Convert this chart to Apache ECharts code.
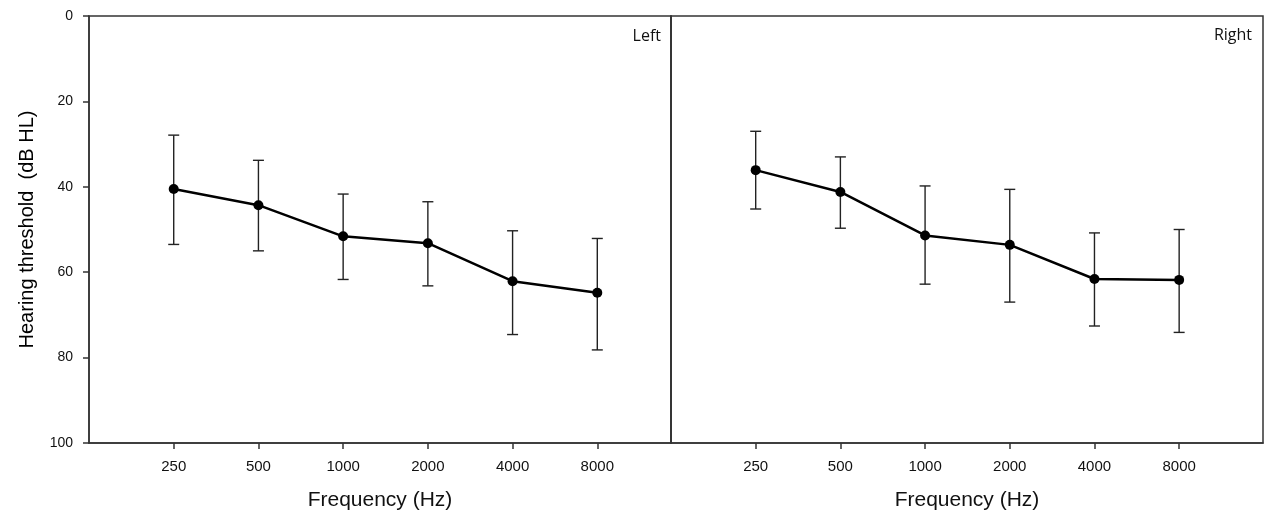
<!DOCTYPE html>
<html>
<head>
<meta charset="utf-8">
<script src="https://cdn.jsdelivr.net/npm/echarts@6/dist/echarts.min.js"></script>
<style>
html,body{margin:0;padding:0;background:#fff;}
#chart{width:1265px;height:518px;}
</style>
</head>
<body>
<div id="chart"></div>
<script>
// ---- data ----
var categories = ['250', '500', '1000', '2000', '4000', '8000'];
var yTicks = [0, 20, 40, 60, 80, 100];
var leftMean = [40.5, 44.3, 51.6, 53.2, 62.1, 64.8];
var leftLow  = [27.9, 33.8, 41.7, 43.5, 50.3, 52.1];
var leftHigh = [53.5, 55.0, 61.7, 63.2, 74.6, 78.2];
var rightMean = [36.1, 41.2, 51.4, 53.6, 61.6, 61.8];
var rightLow  = [27.0, 33.0, 39.8, 40.6, 50.8, 50.0];
var rightHigh = [45.2, 49.7, 62.8, 67.0, 72.6, 74.1];
var panelNames = ['Left', 'Right'];

var idx = categories.map(function (c, i) { return i; });
var FONT = '"Liberation Sans", Arial, sans-serif';
var AX = '#333';

function pts(arr) { return arr.map(function (v, i) { return [i, v]; }); }
function errs(lo, hi) { return lo.map(function (v, i) { return [i, v, hi[i]]; }); }

function errorRender(params, api) {
  var x = api.value(0);
  var p1 = api.coord([x, api.value(1)]);
  var p2 = api.coord([x, api.value(2)]);
  var w = 5.5;
  var st = { stroke: '#222', lineWidth: 1.4 };
  return {
    type: 'group',
    children: [
      { type: 'line', shape: { x1: p1[0], y1: p1[1], x2: p2[0], y2: p2[1] }, style: st },
      { type: 'line', shape: { x1: p1[0] - w, y1: p1[1], x2: p1[0] + w, y2: p1[1] }, style: st },
      { type: 'line', shape: { x1: p2[0] - w, y1: p2[1], x2: p2[0] + w, y2: p2[1] }, style: st }
    ]
  };
}

function xAxisCfg(gi, max) {
  return {
    type: 'value', gridIndex: gi, min: -1, max: max, position: 'bottom',
    axisLine: { show: true, onZero: false, lineStyle: { color: AX, width: 1.5 } },
    axisTick: { show: true, inside: false, length: 6, customValues: idx, lineStyle: { color: AX, width: 1.5 } },
    axisLabel: {
      customValues: idx, margin: 16, color: '#111', fontSize: 15, fontFamily: FONT,
      formatter: function (v) { return categories[v] !== undefined ? categories[v] : ''; }
    },
    splitLine: { show: false },
    name: 'Frequency (Hz)', nameLocation: 'middle', nameGap: 47,
    nameTextStyle: { fontSize: 21, color: '#111', fontFamily: FONT }
  };
}

var option = {
  animation: false,
  backgroundColor: '#fff',
  grid: [
    { left: 89, right: 594, top: 16, bottom: 75, show: true, borderColor: AX, borderWidth: 1.5, backgroundColor: 'transparent' },
    { left: 671, right: 2, top: 16, bottom: 75, show: true, borderColor: AX, borderWidth: 1.5, backgroundColor: 'transparent' }
  ],
  xAxis: [xAxisCfg(0, 5.87), xAxisCfg(1, 5.99)],
  yAxis: [
    {
      type: 'value', gridIndex: 0, inverse: true, min: 0, max: 100, interval: 20, position: 'left',
      axisLine: { show: true, onZero: false, lineStyle: { color: AX, width: 1.5 } },
      axisTick: { show: true, inside: false, length: 6, lineStyle: { color: AX, width: 1.5 } },
      axisLabel: { margin: 16, color: '#111', fontSize: 14, fontFamily: FONT },
      splitLine: { show: false },
      name: 'Hearing threshold  (dB HL)', nameLocation: 'middle', nameGap: 52, nameRotate: 90,
      nameTextStyle: { fontSize: 20, color: '#000', fontFamily: FONT }
    },
    {
      type: 'value', gridIndex: 1, inverse: true, min: 0, max: 100, interval: 20, position: 'left',
      axisLine: { show: true, onZero: false, lineStyle: { color: AX, width: 1.5 } },
      axisTick: { show: false }, axisLabel: { show: false }, splitLine: { show: false }
    }
  ],
  graphic: [
    { type: 'text', right: 1265 - 661, top: 28, style: { text: panelNames[0], fontSize: 16, fontFamily: '"Open Sans", sans-serif', fill: '#111' } },
    { type: 'text', right: 1265 - 1252, top: 27, style: { text: panelNames[1], fontSize: 16, fontFamily: '"Open Sans", sans-serif', fill: '#111' } }
  ],
  series: [
    { type: 'custom', xAxisIndex: 0, yAxisIndex: 0, renderItem: errorRender, data: errs(leftLow, leftHigh), z: 2 },
    { type: 'line', xAxisIndex: 0, yAxisIndex: 0, data: pts(leftMean), symbol: 'circle', symbolSize: 10,
      lineStyle: { color: '#000', width: 2.5 }, itemStyle: { color: '#000' }, z: 3 },
    { type: 'custom', xAxisIndex: 1, yAxisIndex: 1, renderItem: errorRender, data: errs(rightLow, rightHigh), z: 2 },
    { type: 'line', xAxisIndex: 1, yAxisIndex: 1, data: pts(rightMean), symbol: 'circle', symbolSize: 10,
      lineStyle: { color: '#000', width: 2.5 }, itemStyle: { color: '#000' }, z: 3 }
  ]
};

var chart = echarts.init(document.getElementById('chart'), null, { renderer: 'canvas' });
chart.setOption(option);
</script>
</body>
</html>
